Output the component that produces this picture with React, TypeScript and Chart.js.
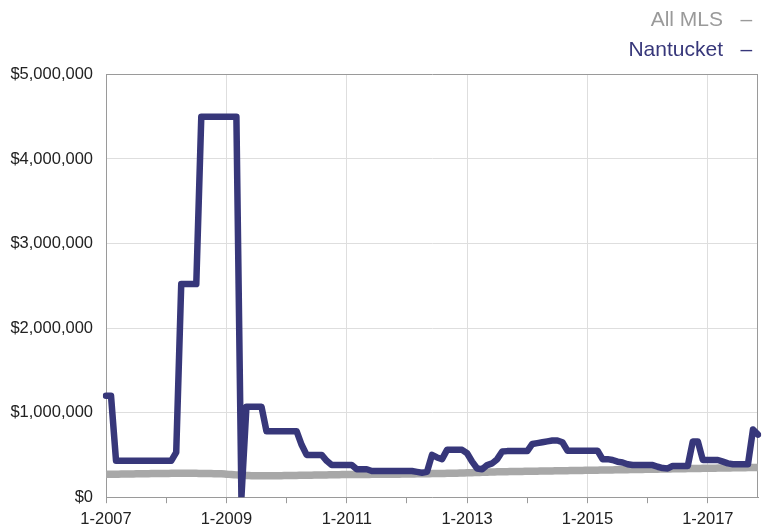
import React, { useEffect, useRef } from "react";
import { Chart, registerables } from "chart.js";

Chart.register(...registerables);

const startYear = 2007;
const monthCount = 131;
const categories: string[] = [];
for (let i = 0; i < monthCount; i++) {
  categories.push(`${(i % 12) + 1}-${startYear + Math.floor(i / 12)}`);
}

const nantucket: number[] = [
  1200000, 1200000, 430000, 430000, 430000, 430000, 430000, 430000, 430000, 430000, 430000, 430000,
  430000, 430000, 530000, 2520000, 2520000, 2520000, 2520000, 4500000, 4500000, 4500000, 4500000, 4500000,
  4500000, 4500000, 4500000, 0, 1070000, 1070000, 1070000, 1070000, 780000, 780000, 780000, 780000,
  780000, 780000, 780000, 620000, 500000, 500000, 500000, 500000, 430000, 380000, 380000, 380000,
  380000, 380000, 330000, 330000, 330000, 310000, 310000, 310000, 310000, 310000, 310000, 310000,
  310000, 310000, 300000, 290000, 300000, 500000, 470000, 450000, 560000, 560000, 560000, 560000,
  520000, 420000, 340000, 330000, 380000, 400000, 450000, 540000, 545000, 545000, 545000, 545000,
  545000, 630000, 640000, 650000, 660000, 670000, 670000, 650000, 550000, 550000, 550000, 550000,
  550000, 550000, 550000, 450000, 450000, 440000, 420000, 410000, 390000, 380000, 380000, 380000,
  380000, 380000, 360000, 345000, 340000, 370000, 370000, 370000, 370000, 660000, 660000, 440000,
  440000, 440000, 440000, 420000, 400000, 390000, 390000, 390000, 390000, 800000, 740000,
];

const allMls: number[] = [
  270000, 271000, 272000, 273000, 274000, 275000, 276000, 277000, 278000, 279000, 280000, 280000,
  281000, 282000, 282000, 283000, 283000, 283000, 282000, 281000, 280000, 279000, 278000, 276000,
  272000, 268000, 264000, 260000, 257000, 255000, 254000, 253000, 253000, 253000, 254000, 255000,
  256000, 257000, 258000, 259000, 260000, 261000, 262000, 263000, 264000, 265000, 266000, 267000,
  267000, 268000, 268000, 269000, 269000, 270000, 270000, 271000, 271000, 272000, 272000, 273000,
  274000, 275000, 276000, 277000, 278000, 279000, 280000, 281000, 282000, 283000, 284000, 286000,
  288000, 290000, 292000, 294000, 296000, 298000, 300000, 301000, 302000, 303000, 304000, 305000,
  306000, 307000, 308000, 309000, 310000, 311000, 312000, 313000, 314000, 315000, 316000, 317000,
  318000, 319000, 320000, 321000, 322000, 323000, 324000, 325000, 326000, 327000, 328000, 329000,
  330000, 331000, 332000, 333000, 334000, 335000, 336000, 337000, 338000, 339000, 340000, 341000,
  342000, 343000, 344000, 345000, 346000, 347000, 348000, 349000, 350000, 351000, 352000,
];

const yTicks: number[] = [0, 1000000, 2000000, 3000000, 4000000, 5000000];

const FONT = "'Liberation Sans', Arial, Helvetica, sans-serif";
const NAVY = "#37377a";
const GRAY = "#a8a8a8";

const frameBorder = {
  id: "frameBorder",
  beforeDatasetsDraw(chart: any) {
    const { ctx, chartArea } = chart;
    ctx.save();
    ctx.strokeStyle = "#9a9a9a";
    ctx.lineWidth = 1;
    ctx.beginPath();
    ctx.moveTo(Math.round(chartArea.right) - 0.5, chartArea.top);
    ctx.lineTo(Math.round(chartArea.right) - 0.5, chartArea.bottom);
    ctx.stroke();
    ctx.restore();
  },
};

export default function App() {
  const ref = useRef<HTMLCanvasElement>(null);
  useEffect(() => {
    document.body.style.margin = "0";
    const chart = new Chart(ref.current!, {
      type: "line",
      data: {
        labels: categories,
        datasets: [
          {
            label: "Nantucket",
            data: nantucket,
            borderColor: NAVY,
            borderWidth: 6.5,
            pointRadius: 0,
            tension: 0,
            borderJoinStyle: "round",
            borderCapStyle: "round",
          },
          {
            label: "All MLS",
            data: allMls,
            borderColor: GRAY,
            borderWidth: 7.5,
            pointRadius: 0,
            tension: 0.3,
          },
        ],
      },
      options: {
        animation: false,
        responsive: true,
        maintainAspectRatio: false,
        layout: { padding: { left: 10, right: 8, top: 0, bottom: -8 } },
        plugins: {
          legend: { display: false },
          tooltip: { enabled: false },
          title: {
            display: true,
            text: "All MLS   – ",
            align: "end",
            color: "#9a9a9a",
            font: { family: FONT, size: 21, weight: "normal" },
            padding: { top: 8, bottom: 4 },
          },
          subtitle: {
            display: true,
            text: "Nantucket   – ",
            align: "end",
            color: NAVY,
            font: { family: FONT, size: 21, weight: "normal" },
            padding: { top: 0, bottom: 12 },
          },
        },
        scales: {
          x: {
            type: "category",
            offset: false,
            grid: {
              color: (c: any) => (c.index % 24 === 0 && c.index > 0 ? "#dedede" : "transparent"),
              tickColor: (c: any) => (c.index % 12 === 0 ? "#9a9a9a" : "transparent"),
              tickLength: 6,
              drawTicks: true,
            },
            border: { color: "#9a9a9a" },
            ticks: {
              autoSkip: false,
              maxRotation: 0,
              minRotation: 0,
              padding: 6,
              color: "#222",
              font: { family: FONT, size: 16.5 },
              callback: (_v: any, i: number) => (i % 24 === 0 ? categories[i] : ""),
            },
          },
          y: {
            min: 0,
            max: 5000000,
            afterBuildTicks: (s: any) => {
              s.ticks = yTicks.map((v) => ({ value: v }));
            },
            afterFit: (s: any) => {
              s.width = 96;
            },
            grid: {
              color: (c: any) => (c.tick && c.tick.value === 5000000 ? "#9a9a9a" : "#dedede"),
              drawTicks: false,
            },
            border: { color: "#9a9a9a" },
            ticks: {
              padding: 13,
              color: "#222",
              font: { family: FONT, size: 16.5 },
              callback: (v: any) => "$" + Number(v).toLocaleString("en-US"),
            },
          },
        },
      },
      plugins: [frameBorder],
    });
    return () => chart.destroy();
  }, []);
  return (
    <div style={{ position: "absolute", left: 0, top: 0, width: 766, height: 527 }}>
      <canvas ref={ref} />
    </div>
  );
}
